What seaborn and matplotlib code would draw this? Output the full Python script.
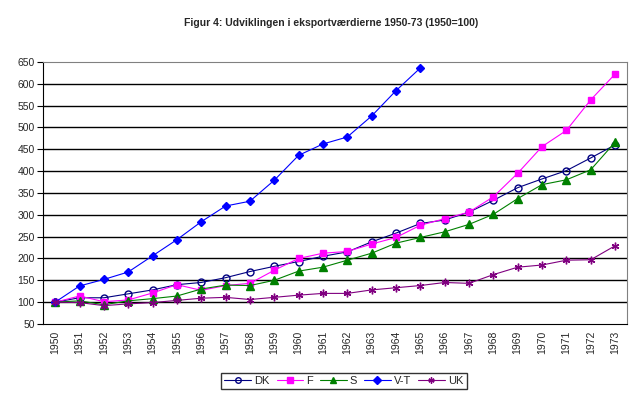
import pandas as pd
import matplotlib.pyplot as plt
import seaborn as sns

years = list(range(1950, 1974))

dk = [100, 110, 110, 119, 128, 140, 145, 156, 170, 182, 193, 205,
      215, 238, 258, 280, 288, 306, 333, 362, 382, 401, 430, 460]
f = [100, 114, 101, 105, 121, 140, 127, 138, 143, 173, 200, 212,
     216, 233, 248, 276, 291, 306, 341, 395, 456, 493, 563, 622]
s = [100, 103, 94, 103, 108, 114, 130, 139, 138, 150, 171, 180,
     196, 212, 235, 248, 261, 278, 301, 337, 369, 380, 403, 466]
vt = [100, 137, 152, 169, 206, 243, 284, 320, 331, 379, 436, 462,
      478, 526, 584, 636]
uk = [100, 99, 92, 96, 99, 104, 109, 111, 106, 111, 116, 120,
      120, 128, 133, 138, 145, 143, 163, 180, 185, 196, 197, 229]

series = {"DK": dk, "F": f, "S": s, "V-T": vt, "UK": uk}
colors = {"DK": "#000080", "F": "#FF00FF", "S": "#008000", "V-T": "#0000FF", "UK": "#800080"}
markers = {"DK": "o", "F": "s", "S": "^", "V-T": "D", "UK": (6, 2, 0)}
msizes = {"DK": 5, "F": 5, "S": 5.5, "V-T": 4.5, "UK": 5.5}

rows = []
for name, vals in series.items():
    for yr, v in zip(years, vals):
        rows.append({"year": yr, "value": v, "land": name})
df = pd.DataFrame(rows)

sns.set_style("white")
plt.rcParams['font.family'] = ['Liberation Sans', 'DejaVu Sans']

fig = plt.figure(figsize=(6.42, 3.99), dpi=100)
ax = fig.add_axes([0.067, 0.188, 0.910, 0.657])

for name in series:
    sub = df[df["land"] == name]
    face = "none" if name == "DK" else colors[name]
    sns.lineplot(data=sub, x="year", y="value", ax=ax, color=colors[name],
                 marker=markers[name], markersize=msizes[name],
                 markerfacecolor=face, markeredgecolor=colors[name],
                 markeredgewidth=1, linewidth=0.8, label=name)

ax.set_xlim(1949.5, 1973.5)
ax.set_ylim(50, 650)
ax.set_yticks(range(50, 651, 50))
ax.yaxis.grid(True, color="black", linewidth=1)
ax.get_ygridlines()[-1].set_visible(False)
ax.get_ygridlines()[0].set_visible(False)
ax.set_axisbelow(True)
ax.set_xticks(years)
ax.set_xticklabels([str(y) for y in years], rotation=90, fontsize=7.5)
ax.set_xticks([y + 0.5 for y in range(1949, 1974)], minor=True)
ax.tick_params(axis="x", which="major", length=0, pad=5)
ax.tick_params(axis="x", which="minor", length=4, color="black", direction="out")
ax.tick_params(axis="y", length=4, color="black", direction="out", labelsize=7.5, pad=2)
ax.tick_params(axis="both", bottom=True, left=True)
ax.set_xlabel("")
ax.set_ylabel("")

for side in ["top", "right"]:
    ax.spines[side].set_color("#808080")
for side in ["left", "bottom"]:
    ax.spines[side].set_color("black")

fig.suptitle("Figur 4: Udviklingen i eksportværdierne 1950-73 (1950=100)",
             x=0.515, y=0.955, fontsize=7.5, fontweight="bold")

leg = ax.legend(loc="upper center", bbox_to_anchor=(0.515, -0.165), ncol=5,
                fontsize=8, frameon=True, fancybox=False, edgecolor="black",
                handlelength=2.4, columnspacing=0.6, handletextpad=0.3,
                borderpad=0.3, markerscale=0.8)
leg.get_frame().set_linewidth(1)

plt.savefig("out.png", dpi=100)
